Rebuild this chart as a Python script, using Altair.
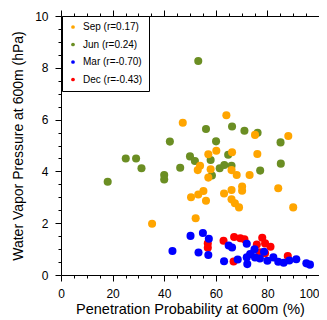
import altair as alt
import pandas as pd

labels = ["Sep (r=0.17)", "Jun (r=0.24)", "Mar (r=-0.70)", "Dec (r=-0.43)"]
colors = ["#FFA500", "#6B8E23", "#0000FF", "#FF0000"]

sep_x = [47.2, 64.1, 75.2, 88.1, 60.2, 57.1, 66.3, 76.1, 53.9, 53.0, 58.0, 66.1, 68.1, 73.1,
         57.1, 84.2, 70.2, 70.2, 66.1, 63.2, 55.2, 53.2, 50.4, 56.2, 66.1, 67.4, 69.0, 90.0,
         52.2, 35.3]
sep_y = [5.88, 6.17, 5.41, 5.37, 4.80, 4.66, 4.74, 4.67, 4.22, 4.05, 4.08, 4.05, 3.86, 3.86,
         3.76, 3.35, 3.42, 3.25, 3.28, 3.15, 3.24, 3.11, 3.00, 2.87, 2.92, 2.77, 2.61, 2.61,
         2.19, 1.98]

jun_x = [18.1, 25.1, 29.1, 31.2, 40.0, 40.0, 42.2, 46.2, 50.0, 51.9, 53.2, 56.2, 66.3, 71.1,
         76.2, 85.1, 60.1, 64.8, 58.0, 85.2, 61.5, 63.3, 66.1, 77.2, 58.5]
jun_y = [3.60, 4.50, 4.50, 4.12, 3.86, 3.69, 5.15, 4.14, 4.58, 4.40, 8.26, 5.64, 5.73, 5.57,
         5.49, 5.12, 5.16, 4.64, 4.44, 4.30, 4.12, 4.25, 4.22, 4.03, 3.84]

mar_x = [43.2, 50.2, 55.0, 57.3, 53.3, 57.1, 65.0, 66.3, 72.0, 75.0, 73.3, 63.2, 68.5, 72.2,
         72.0, 75.2, 77.1, 78.7, 80.0, 82.3, 84.2, 86.3, 88.5, 91.2, 95.1, 96.5]
mar_y = [0.93, 1.51, 1.62, 1.40, 0.87, 0.77, 1.14, 1.06, 1.21, 0.99, 0.81, 0.53, 0.60, 0.42,
         0.68, 0.68, 0.64, 0.90, 0.55, 0.68, 0.51, 0.47, 0.56, 0.61, 0.45, 0.40]

dec_x = [56.9, 56.9, 63.0, 67.1, 69.5, 71.1, 78.0, 75.9, 79.1, 81.2, 66.9, 77.1, 79.1, 87.9]
dec_y = [1.22, 1.05, 1.32, 1.47, 1.42, 1.38, 1.44, 1.18, 1.22, 1.09, 0.52, 0.88, 0.84, 0.73]

rows = []
for lab, xs, ys in [(labels[1], jun_x, jun_y), (labels[0], sep_x, sep_y),
                    (labels[3], dec_x, dec_y), (labels[2], mar_x, mar_y)]:
    for a, b in zip(xs, ys):
        rows.append({"x": a, "y": b, "s": lab})
df = pd.DataFrame(rows)
df["o"] = range(len(df))

x_vals = [i * 5 for i in range(21)]
y_vals = [i * 0.5 for i in range(21)]

font = "Liberation Sans"

xscale = alt.Scale(domain=[0, 100], nice=False, zero=False)
yscale = alt.Scale(domain=[0, 10], nice=False, zero=False)

def xaxis(orient, show):
    kw = dict(orient=orient, values=x_vals, grid=False, domainColor="black", tickColor="black",
              tickSize=alt.condition("datum.value % 20 === 0", alt.value(6), alt.value(3)),
              labels=show, labelOverlap=False, labelFlush=False, labelFont=font,
              labelFontSize=12, labelColor="black", labelPadding=7)
    if show:
        kw.update(title="Penetration Probability at 600m (%)", titleFont=font,
                  titleFontSize=14.5, titleFontWeight="normal", titleColor="black",
                  titlePadding=3,
                  labelAlign=alt.condition("datum.value === 100", alt.value("right"),
                                           alt.value("center")),
                  labelExpr="datum.value % 20 === 0 ? format(datum.value, 'd') : ''")
    else:
        kw.update(title="")
    return alt.Axis(**kw)

def yaxis(orient, show):
    kw = dict(orient=orient, values=y_vals, grid=False, domainColor="black", tickColor="black",
              tickSize=alt.condition("datum.value % 2 === 0", alt.value(6), alt.value(3)),
              labels=show, labelOverlap=False, labelFlush=False, labelFont=font,
              labelFontSize=12, labelColor="black", labelPadding=7)
    if show:
        kw.update(title="Water Vapor Pressure at 600m (hPa)", titleFont=font,
                  titleFontSize=14, titleFontWeight="normal", titleColor="black",
                  titlePadding=9,
                  labelExpr="datum.value % 2 === 0 ? format(datum.value, 'd') : ''")
    else:
        kw.update(title="")
    return alt.Axis(**kw)

points = alt.Chart(df).mark_circle(size=65, opacity=1).encode(
    x=alt.X("x:Q", scale=xscale, axis=xaxis("bottom", True)),
    y=alt.Y("y:Q", scale=yscale, axis=yaxis("left", True)),
    color=alt.Color("s:N", scale=alt.Scale(domain=labels, range=colors), sort=labels,
                    legend=alt.Legend(title=None, orient="none", legendX=1, legendY=0,
                                      strokeColor="black", fillColor="white", padding=6,
                                      symbolType="circle", symbolSize=14, rowPadding=7.5,
                                      labelFont=font, labelFontSize=10, labelColor="black",
                                      labelOffset=5, symbolStrokeWidth=0)),
    order="o:Q",
)

frame = alt.Chart(df).mark_point(opacity=0).encode(
    x=alt.X("x:Q", scale=xscale, axis=xaxis("top", False)),
    y=alt.Y("y:Q", scale=yscale, axis=yaxis("right", False)),
)

chart = alt.layer(points, frame).resolve_axis(x="independent", y="independent").properties(
    width=258, height=259,
    autosize=alt.AutoSizeParams(type="none"),
    padding={"left": 53, "top": 8, "right": 0, "bottom": 45},
).configure_view(stroke="transparent")

chart.save("out.html", embed_options={"renderer": "svg", "actions": False})
